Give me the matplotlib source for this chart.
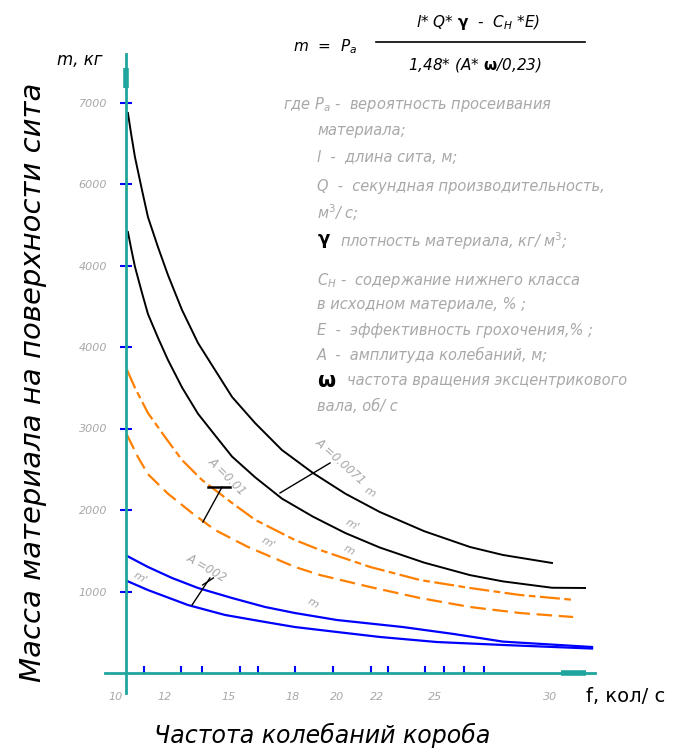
import matplotlib.pyplot as plt
import numpy as np

# curve data: f (кол/с) and m (кг)
f_black1 = [10.09, 10.25, 10.42, 10.75, 11.03, 11.5, 11.97, 12.63, 13.38, 14.18,
            14.98, 16.06, 17.32, 18.78, 20.3, 21.92, 24.0, 26.15, 27.7, 30.0]
m_black1 = [6871, 6600, 6331, 5926, 5595, 5227, 4883, 4454, 4049, 3718,
            3387, 3067, 2736, 2454, 2200, 1975, 1740, 1546, 1448, 1350]

f_black2 = [10.09, 10.25, 10.42, 10.75, 11.03, 11.5, 11.97, 12.63, 13.38, 14.18,
            14.98, 16.06, 17.32, 18.78, 20.3, 21.92, 24.0, 26.15, 27.7, 30.0, 31.55]
m_black2 = [5411, 5198, 4985, 4665, 4405, 4114, 3841, 3504, 3181, 2917,
            2655, 2402, 2140, 1918, 1717, 1539, 1354, 1201, 1124, 1046, 1043]

f_orange1 = [10.05, 10.42, 11.03, 11.83, 12.63, 13.57, 14.98, 16.06, 17.93,
             19.11, 21.46, 23.8, 26.15, 28.5, 31.08]
m_orange1 = [3718, 3500, 3190, 2896, 2613, 2368, 2086, 1880, 1632,
             1509, 1301, 1141, 1043, 957, 896]

f_orange2 = [10.05, 10.56, 11.03, 11.97, 13.1, 14.18, 15.73, 17.93, 19.11,
             21.46, 23.8, 26.15, 28.5, 30.99]
m_orange2 = [2920, 2650, 2440, 2200, 1963, 1755, 1546, 1301, 1202,
             1055, 920, 810, 736, 687]

f_blue1 = [10.05, 11.03, 12.16, 13.38, 14.98, 16.53, 17.93, 19.91, 23.0, 25.35, 27.7, 31.88]
m_blue1 = [1436, 1301, 1166, 1043, 920, 810, 736, 650, 564, 480, 385, 319]

f_blue2 = [10.05, 11.03, 12.91, 14.65, 16.53, 17.93, 19.91, 21.92, 24.6, 27.7, 31.88]
m_blue2 = [1129, 1018, 834, 712, 626, 564, 503, 442, 380, 344, 300]

y_ticks = [1000, 2000, 3000, 4000, 5000, 6000, 7000]
y_ticklabels = ['1000', '2000', '3000', '4000', '4000', '6000', '7000']
x_ticks = [10.85, 12.6, 13.55, 15.35, 16.2, 17.95, 19.7, 21.5, 22.3, 24.05, 24.95, 25.85, 26.8]
x_labels = ['10', '12', '15', '18', '20', '22', '25', '30']
x_label_pos = [9.5, 11.8, 14.8, 17.8, 19.9, 21.8, 24.5, 29.9]

W, H = 681, 752
fig = plt.figure(figsize=(W / 100, H / 100), dpi=100)

# place axes so f=10 -> x=126px, f=30 -> x=552px, m=0 -> y=673px, m=7000 -> y=103px
px_f = 21.3
px_m = 0.0815
xlim = (9.0, 32.0)
ylim = (-250, 7600)
x0 = 126 + (xlim[0] - 10) * px_f
x1 = 126 + (xlim[1] - 10) * px_f
y0 = 673 + (0 - ylim[0]) * px_m
y1 = 673 - ylim[1] * px_m
ax = fig.add_axes([x0 / W, 1 - y0 / H, (x1 - x0) / W, (y0 - y1) / H])
ax.set_xlim(*xlim)
ax.set_ylim(*ylim)
ax.patch.set_alpha(0)

teal = '#1fa59d'
gray = '#a8a8a8'
for s in ['top', 'right']:
    ax.spines[s].set_visible(False)
ax.spines['left'].set_position(('data', 10))
ax.spines['bottom'].set_position(('data', 0))
for s in ['left', 'bottom']:
    ax.spines[s].set_color(teal)
    ax.spines[s].set_linewidth(2)
# little arrow stubs at the axis ends
ax.plot([10, 10], [7180, 7420], color=teal, lw=4, solid_capstyle='butt', clip_on=False)
ax.plot([30.4, 31.6], [0, 0], color=teal, lw=4, solid_capstyle='butt', clip_on=False)

ax.set_yticks(y_ticks)
ax.set_yticklabels(y_ticklabels)
ax.tick_params(axis='y', direction='inout', length=9, width=1.5, color='blue',
               labelcolor=gray, labelsize=8, pad=9)
for t in ax.get_yticklabels():
    t.set_fontstyle('italic')
ax.set_xticks(x_ticks)
ax.set_xticklabels([])
ax.tick_params(axis='x', direction='in', length=5, width=1.5, color='blue')

for lab, pos in zip(x_labels, x_label_pos):
    ax.text(pos, -290, lab, color=gray, fontsize=8, fontstyle='italic',
            ha='center', va='center')

# curves
ax.plot(f_black1, m_black1, color='black', lw=1.4)
ax.plot(f_black2, m_black2, color='black', lw=1.4)
ax.plot(f_orange1, m_orange1, color='#ff8000', lw=1.6, ls=(0, (9, 2, 3, 2)))
ax.plot(f_orange2, m_orange2, color='#ff8000', lw=1.6, ls=(0, (7, 3)))
ax.plot(f_blue1, m_blue1, color='blue', lw=1.6)
ax.plot(f_blue2, m_blue2, color='blue', lw=1.6)

# leader lines for the amplitude labels
ax.plot([17.23, 19.58], [2209, 2577], color='black', lw=1)
ax.plot([13.61, 14.51], [1853, 2282], color='black', lw=1)
ax.plot([13.85, 14.88], [2282, 2282], color='black', lw=1.8)
ax.plot([13.1, 13.94], [834, 1166], color='black', lw=1)
ax.plot([13.6, 14.1], [1080, 1166], color='black', lw=1)

ax.text(20.05, 2601, 'A =0.0071', rotation=-42, color=gray, fontsize=8.5,
        fontstyle='italic', ha='center', va='center')
ax.text(14.74, 2417, 'A =0.01', rotation=-45, color=gray, fontsize=8.5,
        fontstyle='italic', ha='center', va='center')
ax.text(13.8, 1288, 'A =002', rotation=-30, color=gray, fontsize=8.5,
        fontstyle='italic', ha='center', va='center')
m_marks = [(21.46, 2221, 'm'), (20.6, 1816, "m'"), (16.67, 1595, "m'"),
           (20.47, 1509, 'm'), (10.66, 1166, "m'"), (18.78, 859, 'm')]
for fx, my, s in m_marks:
    ax.text(fx, my, s, rotation=-30, color=gray, fontsize=8, fontstyle='italic',
            ha='center', va='center')

# axis titles
fig.text(80 / W, 1 - 60 / H, 'm, кг', fontsize=12, fontstyle='italic',
         ha='center', va='center')
fig.text(626 / W, 1 - 697 / H, 'f, кол/ с', fontsize=14,
         ha='center', va='center')
fig.text(322 / W, 1 - 735 / H, 'Частота колебаний короба', fontsize=17,
         fontstyle='italic', ha='center', va='center')
fig.text(33 / W, 1 - 382 / H, 'Масса материала на поверхности сита', fontsize=21,
         fontstyle='italic', rotation=90, ha='center', va='center')

# formula
fig.text(325 / W, 1 - 47 / H, 'm  =  P$_a$', fontsize=11, fontstyle='italic',
         ha='center', va='center')
fig.text(478 / W, 1 - 22 / H, 'l* Q* $\\mathbf{\\gamma}$  -  C$_H$ *E)', fontsize=11,
         fontstyle='italic', ha='center', va='center')
fig.text(475 / W, 1 - 65 / H, '1,48* (A* $\\mathbf{\\omega}$/0,23)', fontsize=11,
         fontstyle='italic', ha='center', va='center')
fig.add_artist(plt.Line2D([376 / W, 585 / W], [1 - 42 / H, 1 - 42 / H],
                          color='black', lw=1.2))

# legend of symbols
notes = [
    (283, 105, 'где P$_a$ -  вероятность просеивания'),
    (317, 130, 'материала;'),
    (317, 158, 'l  -  длина сита, м;'),
    (317, 187, 'Q  -  секундная производительность,'),
    (317, 213, 'м$^3$/ с;'),
    (340, 241, 'плотность материала, кг/ м$^3$;'),
    (317, 280, 'C$_H$ -  содержание нижнего класса'),
    (317, 305, 'в исходном материале, % ;'),
    (317, 331, 'E  -  эффективность грохочения,% ;'),
    (317, 355, 'A  -  амплитуда колебаний, м;'),
    (347, 381, 'частота вращения эксцентрикового'),
    (317, 406, 'вала, об/ с'),
]
for x, y, s in notes:
    fig.text(x / W, 1 - y / H, s, color=gray, fontsize=10.5, fontstyle='italic',
             ha='left', va='center')
fig.text(317 / W, 1 - 241 / H, '$\\mathbf{\\gamma}$', fontsize=13, ha='left', va='center')
fig.text(317 / W, 1 - 381 / H, '$\\mathbf{\\omega}$', fontsize=15, ha='left', va='center')

fig.savefig('out.png', dpi=100)
